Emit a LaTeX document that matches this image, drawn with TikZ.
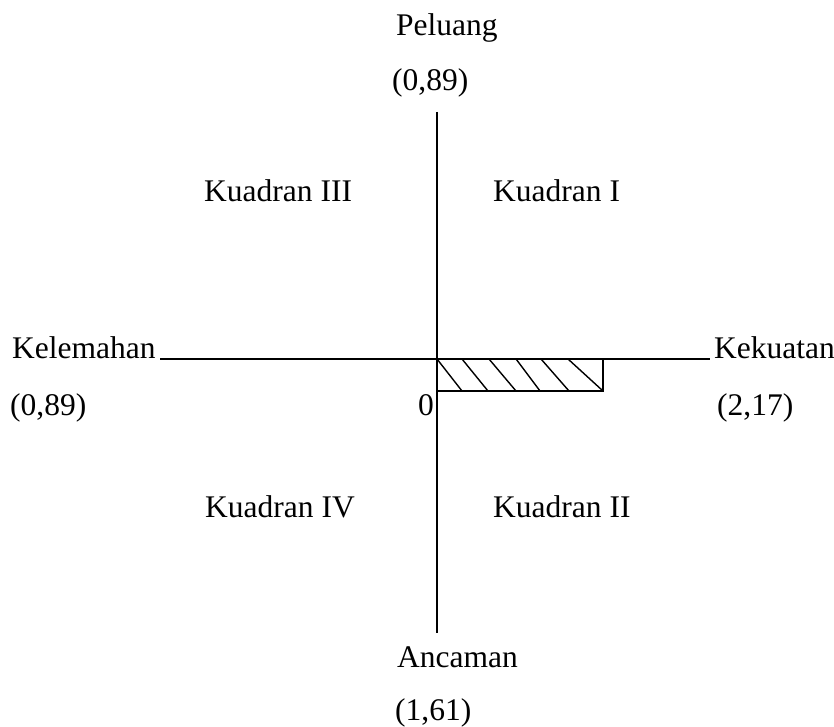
\documentclass[tikz,border=0pt]{standalone}
\usepackage{fontspec}
\setmainfont{Liberation Serif}
\begin{document}
\begin{tikzpicture}[x=1pt,y=1pt,
  lbl/.style={anchor=base west,inner sep=0pt,font=\fontsize{31.5}{38}\selectfont},
  axis/.style={line width=1.6pt},
  hatch/.style={line width=1.4pt}]
\useasboundingbox (0,0) rectangle (834,726);
\coordinate (top) at (437,614);
\coordinate (bot) at (437,93);
\coordinate (lft) at (160,367);
\coordinate (rgt) at (710,367);
\coordinate (O) at (437,367);
\coordinate (R) at (603,335);
\draw[axis] (top) -- (bot);
\draw[axis] (lft) -- (rgt);
\draw[hatch] (O) rectangle (R);
\foreach \a/\b in {437/462,462/488,489/516,516/540,541/569,568/603}
  \draw[hatch] (\a,367) -- (\b,335);
\node[lbl] (peluang) at (396,690) {Peluang};
\node[lbl] (pv) at (392,635) {(0,89)};
\node[lbl] (k3) at (204,524) {Kuadran III};
\node[lbl] (k1) at (493,524) {Kuadran I};
\node[lbl] (kel) at (12,367) {Kelemahan};
\node[lbl] (kelv) at (10,311) {(0,89)};
\node[lbl] (zero) at (418,311) {0};
\node[lbl] (kek) at (714,367) {Kekuatan};
\node[lbl] (kekv) at (717,311) {(2,17)};
\node[lbl] (k4) at (205,209) {Kuadran IV};
\node[lbl] (k2) at (493,209) {Kuadran II};
\node[lbl] (anc) at (397,59) {Ancaman};
\node[lbl] (ancv) at (395,6) {(1,61)};
\end{tikzpicture}
\end{document}
